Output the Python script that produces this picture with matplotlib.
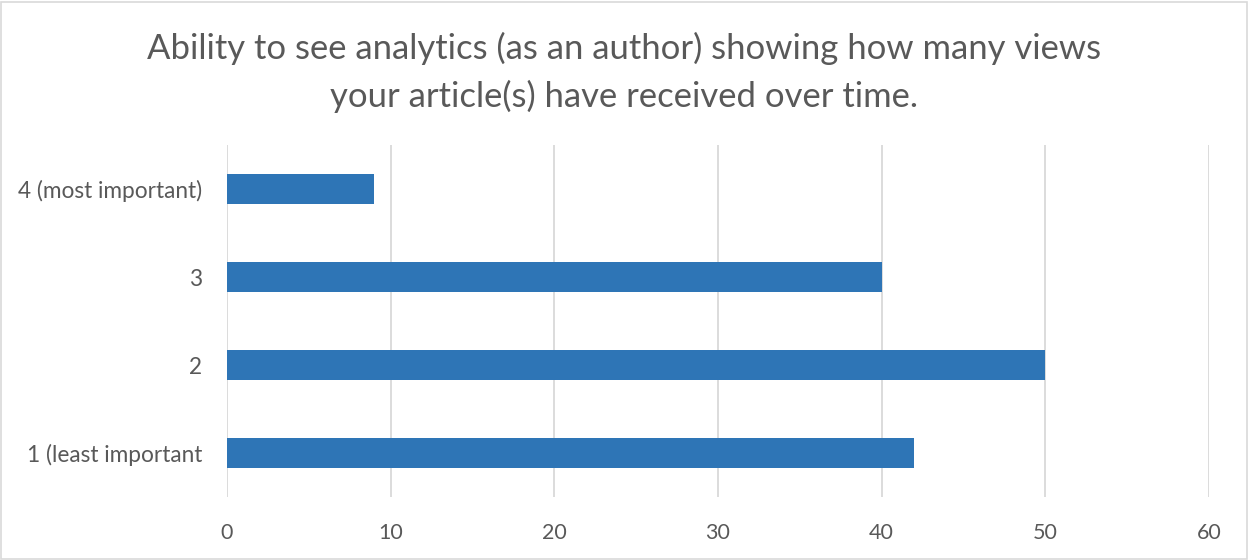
import matplotlib
matplotlib.use("Agg")
import matplotlib.pyplot as plt
from matplotlib.patches import Rectangle

# data
categories = ["1 (least important", "2", "3", "4 (most important)"]
counts = [42, 50, 40, 9]
x_ticks = [0, 10, 20, 30, 40, 50, 60]

TEXT = "#595959"
GRID = "#d9d9d9"
BAR = "#2e75b6"

plt.rcParams["font.family"] = ["Lato", "DejaVu Sans"]

fig = plt.figure(figsize=(12.49, 5.6), dpi=100)
ax = fig.add_axes([227 / 1249, 63 / 560, 982 / 1249, 352 / 560])

ax.barh(range(len(categories)), counts, height=0.35, color=BAR, zorder=3)

ax.set_xlim(0, 60)
ax.set_ylim(-0.5, len(categories) - 0.5)
ax.set_xticks(x_ticks)
ax.set_yticks(range(len(categories)))
ax.set_yticklabels(categories)
ax.xaxis.grid(True, color=GRID, linewidth=1.3, zorder=0)
ax.set_axisbelow(True)
for s in ax.spines.values():
    s.set_visible(False)
ax.tick_params(axis="x", length=0, labelsize=15.5, colors=TEXT, pad=19)
ax.tick_params(axis="y", length=0, labelsize=16.3, colors=TEXT, pad=18)

fig.text(0.5, 1 - 72 / 560,
         "Ability to see analytics (as an author) showing how many views\n"
         "your article(s) have received over time.",
         ha="center", va="center", fontsize=24.9, color=TEXT, linespacing=1.55)

# thin border round the whole chart
fig.patches.append(Rectangle((0.001, 0.002), 0.997, 0.995, transform=fig.transFigure,
                             fill=False, edgecolor=GRID, linewidth=1.2))

fig.savefig("out.png", dpi=100)
